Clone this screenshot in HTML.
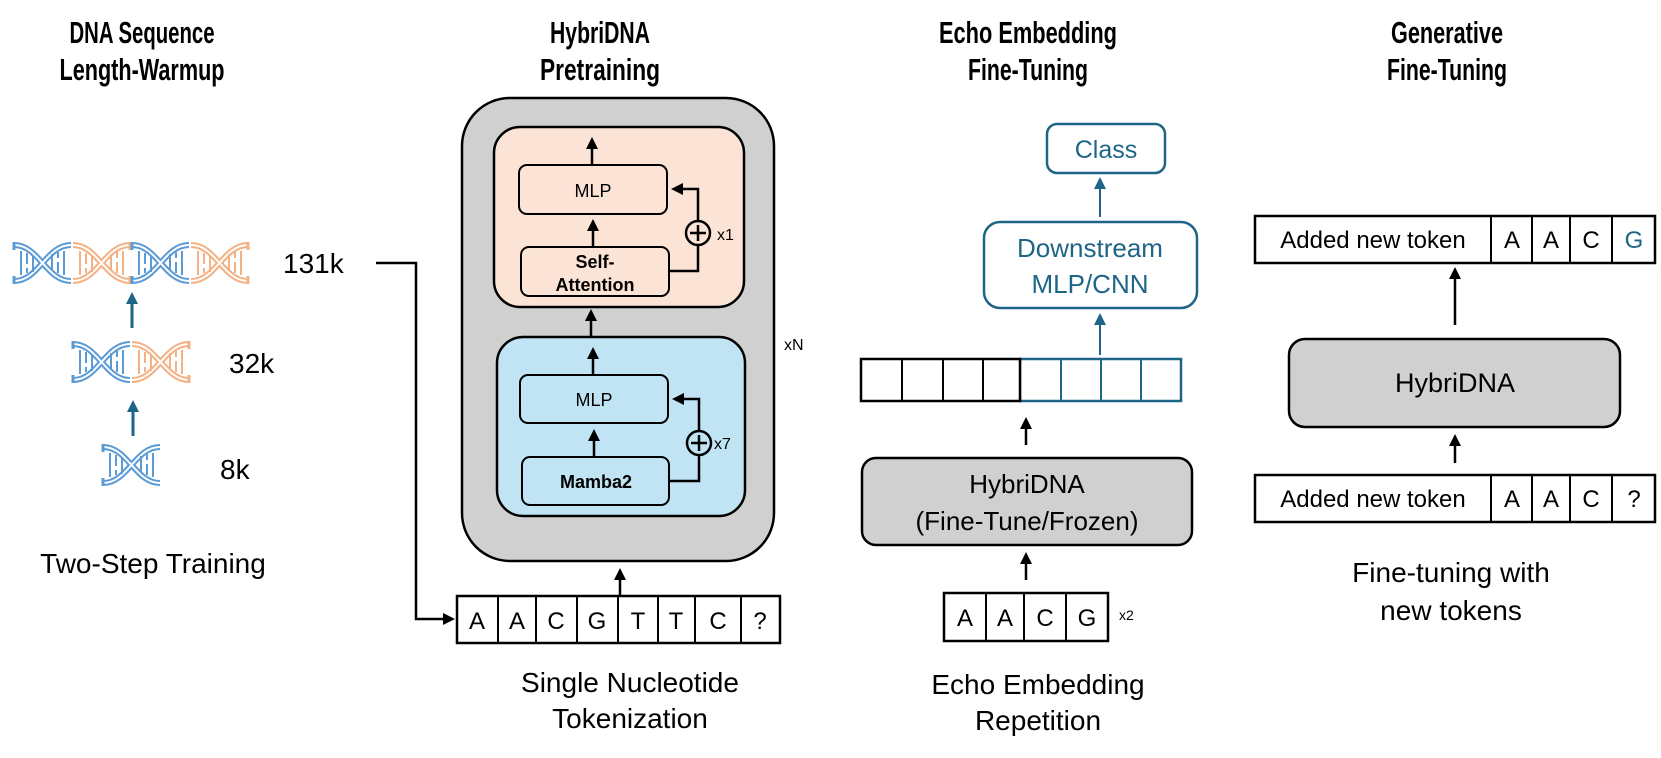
<!DOCTYPE html>
<html><head><meta charset="utf-8"><style>
html,body{margin:0;padding:0;background:#fff;}
svg{display:block;}
text{font-family:"Liberation Sans",sans-serif;}
</style></head><body>
<svg width="1661" height="758" viewBox="0 0 1661 758" xmlns="http://www.w3.org/2000/svg">
<defs>
<marker id="ak" markerWidth="12" markerHeight="12" refX="6" refY="6" orient="auto" markerUnits="userSpaceOnUse"><path d="M0,0 L12,6 L0,12 z" fill="#000"/></marker>
<marker id="ab" markerWidth="12" markerHeight="12" refX="6" refY="6" orient="auto" markerUnits="userSpaceOnUse"><path d="M0,0 L12,6 L0,12 z" fill="#1f6587"/></marker>
<g id="hb">
<path d="M1,3 C26,3 33,39 58,39 M1,39 C26,39 33,3 58,3" fill="none" stroke="#5b9bd5" stroke-width="6"/>
<path d="M1,3 C26,3 33,39 58,39 M1,39 C26,39 33,3 58,3" fill="none" stroke="#fff" stroke-width="2"/>
<path d="M1,0 V8 M1,34 V42" stroke="#5b9bd5" stroke-width="3"/>
<path d="M8,9 V33 M14,11 V22 M14,26 V31 M20,14 V30 M39,12 V28 M45,10 V16 M45,20 V31 M51,9 V33" stroke="#5b9bd5" stroke-width="2"/>
</g>
<g id="ho">
<path d="M1,3 C26,3 33,39 58,39 M1,39 C26,39 33,3 58,3" fill="none" stroke="#f4b183" stroke-width="6"/>
<path d="M1,3 C26,3 33,39 58,39 M1,39 C26,39 33,3 58,3" fill="none" stroke="#fff" stroke-width="2"/>
<path d="M58,0 V8 M58,34 V42" stroke="#f4b183" stroke-width="3"/>
<path d="M8,9 V33 M14,11 V22 M14,26 V31 M20,14 V30 M39,12 V28 M45,10 V16 M45,20 V31 M51,9 V33" stroke="#f4b183" stroke-width="2"/>
</g>
</defs>

<g font-weight="bold" font-size="31" text-anchor="middle">
<text x="142" y="43" textLength="145" lengthAdjust="spacingAndGlyphs">DNA Sequence</text>
<text x="142" y="80" textLength="165" lengthAdjust="spacingAndGlyphs">Length-Warmup</text>
<text x="600" y="43" textLength="100" lengthAdjust="spacingAndGlyphs">HybriDNA</text>
<text x="600" y="80" textLength="120" lengthAdjust="spacingAndGlyphs">Pretraining</text>
<text x="1028" y="43" textLength="178" lengthAdjust="spacingAndGlyphs">Echo Embedding</text>
<text x="1028" y="80" textLength="120" lengthAdjust="spacingAndGlyphs">Fine-Tuning</text>
<text x="1447" y="43" textLength="112" lengthAdjust="spacingAndGlyphs">Generative</text>
<text x="1447" y="80" textLength="120" lengthAdjust="spacingAndGlyphs">Fine-Tuning</text>
</g>

<use href="#hb" x="13" y="242"/><use href="#ho" x="72" y="242"/><use href="#hb" x="131" y="242"/><use href="#ho" x="190" y="242"/>
<use href="#hb" x="72" y="341"/><use href="#ho" x="131" y="341"/>
<use href="#hb" x="102" y="444"/>
<line x1="132" y1="328" x2="132" y2="298" stroke="#1f6587" stroke-width="3" marker-end="url(#ab)"/>
<line x1="133" y1="436" x2="133" y2="406" stroke="#1f6587" stroke-width="3" marker-end="url(#ab)"/>
<g font-size="28">
<text x="283" y="273">131k</text>
<text x="229" y="373">32k</text>
<text x="220" y="479">8k</text>
<text x="153" y="573" text-anchor="middle">Two-Step Training</text>
</g>
<path d="M376,263 H416 V619 H449" fill="none" stroke="#000" stroke-width="2.5" marker-end="url(#ak)"/>

<rect x="462" y="98" width="312" height="463" rx="48" fill="#d0d0d0" stroke="#000" stroke-width="2.5"/>
<rect x="494" y="127" width="250" height="180" rx="26" fill="#fbe3d6" stroke="#000" stroke-width="2.5"/>
<rect x="519" y="165" width="148" height="49" rx="8" fill="#fbe3d6" stroke="#000" stroke-width="2"/>
<rect x="521" y="247" width="148" height="49" rx="8" fill="#fbe3d6" stroke="#000" stroke-width="2"/>
<text x="593" y="197" font-size="18" text-anchor="middle">MLP</text>
<text x="595" y="268" font-size="18" font-weight="bold" text-anchor="middle">Self-</text>
<text x="595" y="291" font-size="18" font-weight="bold" text-anchor="middle">Attention</text>
<line x1="592" y1="165" x2="592" y2="143" stroke="#000" stroke-width="2.5" marker-end="url(#ak)"/>
<line x1="593" y1="247" x2="593" y2="225" stroke="#000" stroke-width="2.5" marker-end="url(#ak)"/>
<path d="M669,271 H698 V189 H677" fill="none" stroke="#000" stroke-width="2.5" marker-end="url(#ak)"/>
<circle cx="698" cy="233" r="12" fill="#fbe3d6" stroke="#000" stroke-width="2.5"/>
<path d="M690,233 H706 M698,225 V241" stroke="#000" stroke-width="2.5"/>
<text x="717" y="240" font-size="16">x1</text>
<line x1="591" y1="337" x2="591" y2="315" stroke="#000" stroke-width="2.5" marker-end="url(#ak)"/>

<rect x="497" y="337" width="248" height="179" rx="26" fill="#c0e4f4" stroke="#000" stroke-width="2.5"/>
<rect x="520" y="375" width="148" height="48" rx="8" fill="#c0e4f4" stroke="#000" stroke-width="2"/>
<rect x="522" y="457" width="147" height="48" rx="8" fill="#c0e4f4" stroke="#000" stroke-width="2"/>
<text x="594" y="406" font-size="18" text-anchor="middle">MLP</text>
<text x="596" y="488" font-size="18" font-weight="bold" text-anchor="middle">Mamba2</text>
<line x1="593" y1="375" x2="593" y2="353" stroke="#000" stroke-width="2.5" marker-end="url(#ak)"/>
<line x1="594" y1="457" x2="594" y2="435" stroke="#000" stroke-width="2.5" marker-end="url(#ak)"/>
<path d="M669,481 H699 V399 H678" fill="none" stroke="#000" stroke-width="2.5" marker-end="url(#ak)"/>
<circle cx="699" cy="443" r="12" fill="#c0e4f4" stroke="#000" stroke-width="2.5"/>
<path d="M691,443 H707 M699,435 V451" stroke="#000" stroke-width="2.5"/>
<text x="714" y="449" font-size="16">x7</text>
<text x="784" y="350" font-size="16">xN</text>

<line x1="620" y1="596" x2="620" y2="574" stroke="#000" stroke-width="2.5" marker-end="url(#ak)"/>
<rect x="457" y="596" width="323" height="47" fill="#fff" stroke="#000" stroke-width="2.5"/>
<path d="M498,596 V643 M536,596 V643 M577,596 V643 M618,596 V643 M658,596 V643 M695,596 V643 M741,596 V643" stroke="#000" stroke-width="2"/>
<g font-size="24" text-anchor="middle">
<text x="477" y="629">A</text><text x="517" y="629">A</text><text x="556" y="629">C</text><text x="597" y="629">G</text><text x="638" y="629">T</text><text x="676" y="629">T</text><text x="718" y="629">C</text><text x="760" y="629">?</text>
</g>
<text x="630" y="692" font-size="28" text-anchor="middle">Single Nucleotide</text>
<text x="630" y="728" font-size="28" text-anchor="middle">Tokenization</text>

<rect x="1047" y="124" width="118" height="49" rx="10" fill="#fff" stroke="#1f6587" stroke-width="2.5"/>
<text x="1106" y="158" font-size="25" fill="#1f6587" text-anchor="middle">Class</text>
<line x1="1100" y1="217" x2="1100" y2="183" stroke="#1f6587" stroke-width="2" marker-end="url(#ab)"/>
<rect x="984" y="222" width="213" height="86" rx="16" fill="#fff" stroke="#1f6587" stroke-width="2.5"/>
<text x="1090" y="257" font-size="26" fill="#1f6587" text-anchor="middle">Downstream</text>
<text x="1090" y="293" font-size="26" fill="#1f6587" text-anchor="middle">MLP/CNN</text>
<line x1="1100" y1="355" x2="1100" y2="319" stroke="#1f6587" stroke-width="2" marker-end="url(#ab)"/>
<rect x="1020" y="359" width="161" height="42" fill="#fff" stroke="#1f6587" stroke-width="2.5"/>
<path d="M1061,359 V401 M1101,359 V401 M1141,359 V401" stroke="#1f6587" stroke-width="2"/>
<rect x="861" y="359" width="159" height="42" fill="#fff" stroke="#000" stroke-width="2.5"/>
<path d="M902,359 V401 M943,359 V401 M983,359 V401" stroke="#000" stroke-width="2"/>
<line x1="1026" y1="445" x2="1026" y2="423" stroke="#000" stroke-width="2.5" marker-end="url(#ak)"/>
<rect x="862" y="458" width="330" height="87" rx="14" fill="#d0d0d0" stroke="#000" stroke-width="2.5"/>
<text x="1027" y="493" font-size="26" text-anchor="middle">HybriDNA</text>
<text x="1027" y="530" font-size="26" text-anchor="middle">(Fine-Tune/Frozen)</text>
<line x1="1026" y1="580" x2="1026" y2="558" stroke="#000" stroke-width="2.5" marker-end="url(#ak)"/>
<rect x="944" y="593" width="164" height="48" fill="#fff" stroke="#000" stroke-width="2.5"/>
<path d="M986,593 V641 M1024,593 V641 M1066,593 V641" stroke="#000" stroke-width="2"/>
<g font-size="24" text-anchor="middle">
<text x="965" y="626">A</text><text x="1005" y="626">A</text><text x="1045" y="626">C</text><text x="1087" y="626">G</text>
</g>
<text x="1119" y="620" font-size="14">x2</text>
<text x="1038" y="694" font-size="28" text-anchor="middle">Echo Embedding</text>
<text x="1038" y="730" font-size="28" text-anchor="middle">Repetition</text>

<rect x="1255" y="216" width="400" height="47" fill="#fff" stroke="#000" stroke-width="2.5"/>
<path d="M1491,216 V263 M1532,216 V263 M1570,216 V263 M1612,216 V263" stroke="#000" stroke-width="2"/>
<g font-size="24" text-anchor="middle">
<text x="1373" y="248">Added new token</text>
<text x="1512" y="248">A</text><text x="1551" y="248">A</text><text x="1591" y="248">C</text><text x="1634" y="248" fill="#1f6587">G</text>
</g>
<line x1="1455" y1="325" x2="1455" y2="273" stroke="#000" stroke-width="2.5" marker-end="url(#ak)"/>
<rect x="1289" y="339" width="331" height="88" rx="16" fill="#d0d0d0" stroke="#000" stroke-width="2.5"/>
<text x="1455" y="392" font-size="27" text-anchor="middle">HybriDNA</text>
<line x1="1455" y1="463" x2="1455" y2="440" stroke="#000" stroke-width="2.5" marker-end="url(#ak)"/>
<rect x="1255" y="475" width="400" height="47" fill="#fff" stroke="#000" stroke-width="2.5"/>
<path d="M1491,475 V522 M1532,475 V522 M1570,475 V522 M1612,475 V522" stroke="#000" stroke-width="2"/>
<g font-size="24" text-anchor="middle">
<text x="1373" y="507">Added new token</text>
<text x="1512" y="507">A</text><text x="1551" y="507">A</text><text x="1591" y="507">C</text><text x="1634" y="507">?</text>
</g>
<text x="1451" y="582" font-size="28" text-anchor="middle">Fine-tuning with</text>
<text x="1451" y="620" font-size="28" text-anchor="middle">new tokens</text>
</svg>
</body></html>
